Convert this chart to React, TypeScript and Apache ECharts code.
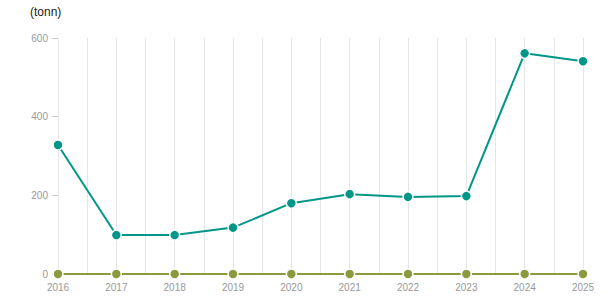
import React, { useEffect, useRef } from "react";
import * as echarts from "echarts";

const years = [2016, 2017, 2018, 2019, 2020, 2021, 2022, 2023, 2024, 2025];
const seriesA = [328, 99, 99, 118, 180, 203, 196, 198, 561, 541];
const seriesB = [0, 0, 0, 0, 0, 0, 0, 0, 0, 0];
const yTicks = [0, 200, 400, 600];
const unitLabel = "(tonn)";

export default function App() {
  const ref = useRef<HTMLDivElement>(null);
  useEffect(() => {
    if (!ref.current) return;
    const chart = echarts.init(ref.current, undefined, { renderer: "svg" });
    chart.setOption({
      animation: false,
      textStyle: { fontFamily: "Liberation Sans, Arial, sans-serif" },
      title: {
        text: unitLabel,
        left: 25,
        top: 1,
        textStyle: { fontSize: 12, fontWeight: "normal", color: "#222" },
      },
      grid: { left: 58, right: 32, top: 38, bottom: 31, containLabel: false },
      xAxis: {
        type: "value",
        min: years[0],
        max: years[years.length - 1],
        interval: 0.5,
        axisLine: { show: true, lineStyle: { color: "#ccc" } },
        axisTick: { show: false },
        axisLabel: {
          color: "#999",
          fontSize: 10,
          margin: 8,
          formatter: (v: number) => (Number.isInteger(v) ? String(v) : ""),
        },
        splitLine: { show: true, lineStyle: { color: "#e6e6e6", width: 1 } },
      },
      yAxis: {
        type: "value",
        min: yTicks[0],
        max: yTicks[yTicks.length - 1],
        interval: 200,
        axisLine: { show: false },
        axisTick: { show: true, length: 6, lineStyle: { color: "#ccc" } },
        axisLabel: { color: "#999", fontSize: 10, margin: 10 },
        splitLine: { show: false },
      },
      series: [
        {
          type: "line",
          data: years.map((y, i) => [y, seriesB[i]]),
          symbol: "circle",
          symbolSize: 10,
          z: 3,
          lineStyle: { color: "#8a9a3e", width: 2 },
          itemStyle: { color: "#8a9a3e", borderColor: "#fff", borderWidth: 1.5 },
        },
        {
          type: "line",
          data: years.map((y, i) => [y, seriesA[i]]),
          symbol: "circle",
          symbolSize: 10,
          z: 4,
          lineStyle: { color: "#009688", width: 2 },
          itemStyle: { color: "#009688", borderColor: "#fff", borderWidth: 1.5 },
        },
      ],
    });
    return () => chart.dispose();
  }, []);
  return <div ref={ref} style={{ width: 615, height: 305, position: "absolute", left: 0, top: 0 }} />;
}
